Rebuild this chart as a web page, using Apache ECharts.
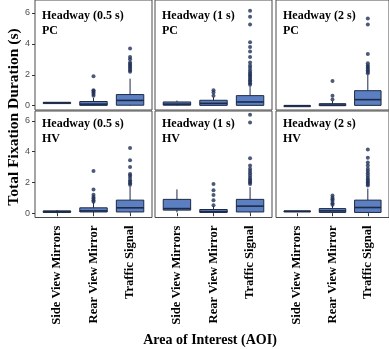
<!DOCTYPE html>
<html><head><meta charset="utf-8">
<script src="https://cdn.jsdelivr.net/npm/echarts@6/dist/echarts.min.js"></script>
<style>html,body{margin:0;padding:0;background:#fff}#c{width:389px;height:349px}</style>
</head><body><div id="c"></div>
<script>
// ---- data ----
const categories = ['Side View Mirrors', 'Rear View Mirror', 'Traffic Signal'];
const headways = ['Headway (0.5 s)', 'Headway (1 s)', 'Headway (2 s)'];
const drivers = ['PC', 'HV'];
const yTicks = [0, 2, 4, 6];

// box stats per AOI: [min, Q1, median, Q3, max]
const pc05Box = [[0.2, 0.2, 0.2, 0.2, 0.2], [0, 0.02, 0.1, 0.27, 0.5], [0, 0.03, 0.34, 0.72, 1.75]];
const pc05Out = [[], [0.65, 0.75, 0.85, 0.95, 1.0, 1.9], [2.2, 2.3, 2.4, 2.5, 2.6, 2.7, 2.8, 3.0, 3.15, 3.7]];
const pc1Box = [[0, 0.03, 0.1, 0.24, 0.33], [0, 0.02, 0.15, 0.35, 0.55], [0, 0.02, 0.24, 0.65, 1.25]];
const pc1Out = [[], [0.65, 0.86, 1.0], [1.35, 1.45, 1.55, 1.65, 1.75, 1.85, 1.95, 2.05, 2.15, 2.3, 2.45, 2.6, 2.8, 3.15, 3.5, 3.8, 4.1, 5.25, 5.75, 6.15]];
const pc2Box = [[0, 0, 0, 0, 0], [0, 0, 0.04, 0.13, 0.3], [0, 0.02, 0.39, 0.97, 2.0]];
const pc2Out = [[], [0.4, 0.65, 1.6], [2.1, 2.2, 2.3, 2.4, 2.5, 2.6, 2.75, 3.35, 5.25, 5.65]];
const hv05Box = [[0, 0.05, 0.1, 0.15, 0.2], [0, 0.08, 0.15, 0.35, 0.7], [0, 0.08, 0.35, 0.85, 1.75]];
const hv05Out = [[], [0.75, 0.85, 0.95, 1.05, 1.2, 1.55, 2.75], [1.85, 1.95, 2.05, 2.15, 2.3, 2.45, 2.55, 3.0, 3.45, 4.25]];
const hv1Box = [[0.05, 0.2, 0.3, 0.9, 1.55], [0, 0.05, 0.1, 0.24, 0.45], [0, 0.08, 0.46, 0.9, 1.7]];
const hv1Out = [[], [0.52, 0.85, 1.18, 1.5, 1.9], [1.9, 2.0, 2.1, 2.2, 2.3, 2.45, 2.6, 2.75, 2.9, 3.1, 3.57, 5.9, 6.4]];
const hv2Box = [[0.08, 0.1, 0.12, 0.15, 0.16], [0, 0.05, 0.15, 0.3, 0.5], [0, 0.05, 0.37, 0.85, 1.6]];
const hv2Out = [[], [0.55, 0.65, 0.8, 0.9, 1.0, 1.15], [1.8, 1.9, 2.0, 2.1, 2.2, 2.3, 2.45, 2.6, 2.75, 2.9, 3.1, 3.3, 3.6, 4.15]];

const panelBoxes = [pc05Box, pc1Box, pc2Box, hv05Box, hv1Box, hv2Box];
const panelOutliers = [pc05Out, pc1Out, pc2Out, hv05Out, hv1Out, hv2Out];

// ---- layout / style ----
const BOX_FILL = '#5b7fc0';
const BOX_LINE = '#1d2a47';
const PT_COLOR = '#1f3057';
const FRAME = '#4a4a4a';
const SERIF = '"Liberation Serif", "Times New Roman", serif';
const colLeft = [35, 155, 276];
const colWidth = 117;
const rowTop = [-4, 111];
const rowHeight = [114, 106.5];
const rowMin = [-0.28, -0.28];
const rowMax = [6.84, 6.65];

function renderBox(params, api) {
  const x = api.value(0);
  const lo = api.coord([x, api.value(1)]);
  const q1 = api.coord([x, api.value(2)]);
  const md = api.coord([x, api.value(3)]);
  const q3 = api.coord([x, api.value(4)]);
  const hi = api.coord([x, api.value(5)]);
  const w = api.size([0.75, 0])[0];
  const cx = lo[0];
  const ls = { stroke: BOX_LINE, lineWidth: 1 };
  return {
    type: 'group',
    children: [
      { type: 'line', shape: { x1: cx, y1: hi[1], x2: cx, y2: q3[1] }, style: ls },
      { type: 'line', shape: { x1: cx, y1: q1[1], x2: cx, y2: lo[1] }, style: ls },
      { type: 'rect', shape: { x: cx - w / 2, y: q3[1], width: w, height: Math.max(q1[1] - q3[1], 1) },
        style: { fill: BOX_FILL, stroke: BOX_LINE, lineWidth: 1 } },
      { type: 'line', shape: { x1: cx - w / 2, y1: md[1], x2: cx + w / 2, y2: md[1] },
        style: { stroke: BOX_LINE, lineWidth: 1.6 } }
    ]
  };
}

const grid = [], xAxis = [], yAxis = [], series = [], graphic = [];
for (let r = 0; r < 2; r++) {
  for (let c = 0; c < 3; c++) {
    const i = r * 3 + c;
    grid.push({ left: colLeft[c], top: rowTop[r], width: colWidth, height: rowHeight[r],
      show: true, borderColor: FRAME, borderWidth: 1, backgroundColor: 'transparent' });
    xAxis.push({
      type: 'value', gridIndex: i, min: 0.4, max: 3.6,
      axisLine: { show: false }, splitLine: { show: false },
      axisTick: { show: r === 1, customValues: [1, 2, 3], length: 3, lineStyle: { color: '#333' } },
      axisLabel: { show: r === 1, customValues: [1, 2, 3], rotate: 90, margin: 8,
        formatter: v => categories[Math.round(v) - 1],
        fontFamily: SERIF, fontWeight: 'bold', fontSize: 12.6, color: '#000' }
    });
    yAxis.push({
      type: 'value', gridIndex: i, min: rowMin[r], max: rowMax[r],
      axisLine: { show: false }, splitLine: { show: false },
      axisTick: { show: c === 0, customValues: yTicks, length: 3, lineStyle: { color: '#333' } },
      axisLabel: { show: c === 0, customValues: yTicks, margin: 5,
        fontFamily: 'Liberation Sans, Arial, sans-serif', fontSize: 9, color: '#4d4d4d' }
    });
    const boxes = panelBoxes[i].map((b, k) => [k + 1].concat(b));
    series.push({
      type: 'custom', xAxisIndex: i, yAxisIndex: i, renderItem: renderBox,
      encode: { x: 0, y: [1, 2, 3, 4, 5] }, data: boxes, silent: true
    });
    const pts = [];
    panelOutliers[i].forEach((arr, k) => arr.forEach(v => pts.push([k + 1, v])));
    series.push({
      type: 'scatter', xAxisIndex: i, yAxisIndex: i, data: pts, symbolSize: 4,
      itemStyle: { color: PT_COLOR }, silent: true
    });
    graphic.push({
      type: 'text', left: colLeft[c] + 7, top: (r === 0 ? 8 : 116),
      style: { text: headways[c] + '\n' + drivers[r], font: 'bold 12px ' + SERIF,
        fill: '#000', lineHeight: 15.5 }
    });
  }
}
graphic.push({
  type: 'text', x: 14, y: 117, rotation: Math.PI / 2,
  style: { text: 'Total Fixation Duration (s)', font: 'bold 15.5px ' + SERIF, fill: '#000',
    align: 'center', verticalAlign: 'middle' }
});
graphic.push({
  type: 'text', x: 210, y: 340,
  style: { text: 'Area of Interest (AOI)', font: 'bold 14px ' + SERIF, fill: '#000',
    align: 'center', verticalAlign: 'middle' }
});

const chart = echarts.init(document.getElementById('c'), null, { renderer: 'canvas' });
chart.setOption({ animation: false, backgroundColor: '#fff', grid, xAxis, yAxis, series, graphic });
</script></body></html>
